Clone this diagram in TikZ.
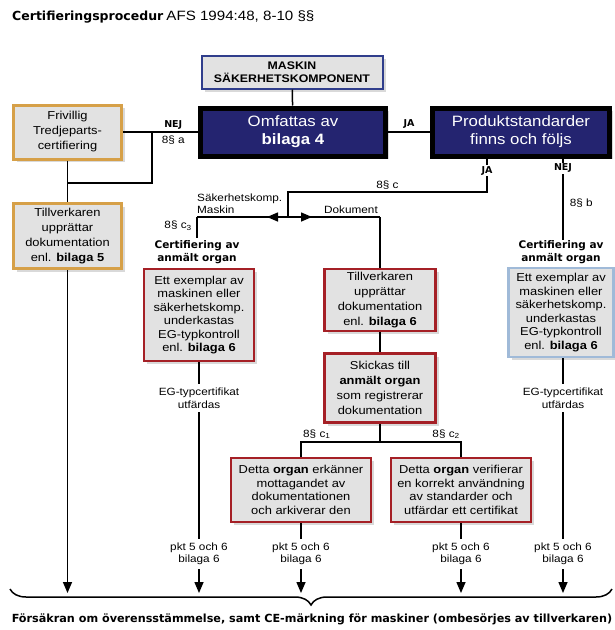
\documentclass[tikz,border=0pt]{standalone}
\usepackage{fontspec}
\setmainfont{Liberation Sans}[FakeStretch=1.12]
\newfontfamily\heavyfont{DejaVu Sans}
\usetikzlibrary{shapes,arrows,arrows.meta,positioning,shadows,decorations.pathreplacing}

\definecolor{boxgrey}{RGB}{226,226,226}
\definecolor{navy}{RGB}{36,36,112}
\definecolor{boxred}{RGB}{165,32,38}
\definecolor{boxorange}{RGB}{214,160,72}
\definecolor{boxblue}{RGB}{48,62,140}
\definecolor{boxlight}{RGB}{160,186,216}

\begin{document}
\begin{tikzpicture}[
    x=1pt, y=-1pt,
    box/.style={rectangle, draw, fill=boxgrey, align=center, inner sep=2pt,
                font=\fontsize{11.5}{13.5}\selectfont,
                drop shadow={opacity=0.3, shadow xshift=3pt, shadow yshift=-3pt}},
    redbox/.style={box, draw=boxred, line width=2.5pt},
    orangebox/.style={box, draw=boxorange, line width=3pt, minimum width=108, font=\fontsize{11.5}{15}\selectfont},
    navybox/.style={box, draw=black, fill=navy, line width=5pt, text=white,
                    minimum height=48, font=\fontsize{15}{18}\selectfont},
    line/.style={line width=1.5pt},
    arrow/.style={line, -{Triangle[width=9pt,length=11pt]}},
    lbl/.style={font=\fontsize{10.5}{12.5}\selectfont, align=center, inner sep=1pt},
    yesno/.style={font=\heavyfont\bfseries\fontsize{9.5}{10}\selectfont, fill=white, inner sep=1pt},
    cert/.style={font=\heavyfont\bfseries\fontsize{10.5}{12.5}\selectfont, align=center, inner sep=0pt}
  ]
  \useasboundingbox (0,0) rectangle (615,630);

  % ---- Title ----
  \node[anchor=base west, inner sep=0pt] (title) at (12,20)
    {{\heavyfont\bfseries\fontsize{12.5}{14}\selectfont Certifieringsprocedur}
     {\fontsize{13.5}{15}\selectfont AFS 1994:48, 8-10 §§}};

  % ---- Top row ----
  \node[box, draw=boxblue, line width=2pt, minimum width=181, minimum height=33,
        font=\bfseries\fontsize{11}{13}\selectfont] (maskin) at (292,72)
        {MASKIN\\SÄKERHETSKOMPONENT};
  \node[navybox, minimum width=185] (omf) at (293,132) {Omfattas av\\\textbf{bilaga 4}};
  \node[navybox, minimum width=177] (prod) at (521,132) {Produktstandarder\\finns och följs};
  \node[orangebox, minimum height=54] (friv) at (67.5,132) {Frivillig\\Tredjeparts-\\certifiering};

  % ---- Left column ----
  \node[orangebox, minimum height=65] (tillv5) at (67.5,236)
        {Tillverkaren\\upprättar\\dokumentation\\enl. \textbf{bilaga 5}};

  % ---- Type examination (left) ----
  \node[cert] (cert1) at (197,252) {Certifiering av\\anmält organ};
  \node[redbox, minimum width=110, minimum height=92] (ex1) at (199,315)
        {Ett exemplar av\\maskinen eller\\säkerhetskomp.\\underkastas\\EG-typkontroll\\enl. \textbf{bilaga 6}};
  \node[lbl, outer sep=3pt] (eg1) at (199,398) {EG-typcertifikat\\utfärdas};

  % ---- Documentation (middle) ----
  \node[redbox, minimum width=111, minimum height=62, font=\fontsize{11.5}{15}\selectfont] (tillv6) at (380,300)
        {Tillverkaren\\upprättar\\dokumentation\\enl. \textbf{bilaga 6}};
  \node[redbox, minimum width=111, minimum height=69, font=\fontsize{11.5}{15}\selectfont] (skickas) at (380,388)
        {Skickas till\\\textbf{anmält organ}\\som registrerar\\dokumentation};
  \node[redbox, minimum width=140, minimum height=64] (erk) at (301,490)
        {Detta \textbf{organ} erkänner\\mottagandet av\\dokumentationen\\och arkiverar den};
  \node[redbox, minimum width=140, minimum height=64] (ver) at (461,490)
        {Detta \textbf{organ} verifierar\\en korrekt användning\\av standarder och\\utfärdar ett certifikat};

  % ---- Type examination (right) ----
  \node[cert] (cert2) at (561,252) {Certifiering av\\anmält organ};
  \node[box, draw=boxlight, line width=2.5pt, minimum width=105, minimum height=89] (ex2) at (561,312.5)
        {Ett exemplar av\\maskinen eller\\säkerhetskomp.\\underkastas\\EG-typkontroll\\enl. \textbf{bilaga 6}};
  \node[lbl, outer sep=3pt] (eg2) at (563,398) {EG-typcertifikat\\utfärdas};

  % ---- Bottom labels ----
  \node[lbl, outer sep=3pt] (pkt1) at (199,554) {pkt 5 och 6\\bilaga 6};
  \node[lbl, outer sep=3pt] (pkt2) at (301,554) {pkt 5 och 6\\bilaga 6};
  \node[lbl, outer sep=3pt] (pkt3) at (461,554) {pkt 5 och 6\\bilaga 6};
  \node[lbl, outer sep=3pt] (pkt4) at (563,554) {pkt 5 och 6\\bilaga 6};

  % ---- Helper points ----
  \coordinate (nejA)  at (152,132);
  \coordinate (joinA) at (67.5,183);
  \coordinate (jaB)   at (487,192);
  \coordinate (split) at (288,192);
  \coordinate (fork)  at (288,217);
  \coordinate (forkL) at (197,217);
  \coordinate (forkR) at (380,217);
  \coordinate (c3end) at (197,238);
  \coordinate (nejB)  at (563,240);
  \coordinate (split2) at (380,442);
  \coordinate (end0) at (67.5,593);
  \coordinate (end1) at (199,593);
  \coordinate (end2) at (301,593);
  \coordinate (end3) at (461,593);
  \coordinate (end4) at (563,593);
  \coordinate (braceL) at (10,589);
  \coordinate (braceR) at (612,589);

  % ---- Arrows ----
  \draw[line] (maskin) -- (omf);
  \draw[line] (friv) -- node[yesno, above=1pt, pos=0.67]{NEJ} node[lbl, below=2pt, pos=0.67]{8§ a} (omf);
  \draw[line] (nejA) |- (joinA);
  \draw[line] (friv) -- (tillv5);
  \draw[line] (omf) -- node[yesno, above=2pt]{JA} (prod);

  \draw[line] (jaB |- prod.south) -- node[yesno, pos=0.36]{JA} (jaB)
              -- node[lbl, above=1pt]{8§ c} (split) -- (fork);
  \draw[line] (forkL) -- (forkR);
  \draw[arrow] (fork) -- ++(-21,0);
  \draw[arrow] (fork) -- ++(24,0);
  \draw[line] (forkL) -- (c3end);
  \draw[line] (forkR) -- (tillv6);
  \node[lbl, anchor=south west, align=left] (sakmask) at (196,215) {Säkerhetskomp.\\Maskin};
  \node[lbl, anchor=south east] (dok) at (379,215) {Dokument};
  \node[lbl, anchor=east] (c3) at (193,226) {8§ c\textsubscript{3}};

  \draw[line] (nejB |- prod.south) -- node[yesno, pos=0.12]{NEJ}
              node[lbl, right=5pt, pos=0.55]{8§ b} (nejB);

  \draw[line] (tillv6) -- (skickas);
  \draw[line] (skickas) -- (split2);
  \draw[line] (erk.north) |- (split2) -| (ver.north);
  \node[lbl, anchor=south west] (c1) at (302,440) {8§ c\textsubscript{1}};
  \node[lbl, anchor=south east] (c2) at (461,440) {8§ c\textsubscript{2}};

  \draw[arrow] (tillv5) -- (end0);
  \draw[line] (ex1) -- (eg1);
  \draw[line] (eg1) -- (pkt1);
  \draw[arrow] (pkt1) -- (end1);
  \draw[line] (erk) -- (pkt2);
  \draw[arrow] (pkt2) -- (end2);
  \draw[line] (ver) -- (pkt3);
  \draw[arrow] (pkt3) -- (end3);
  \draw[line] (ex2.south -| eg2) -- (eg2);
  \draw[line] (eg2) -- (pkt4);
  \draw[arrow] (pkt4) -- (end4);

  % ---- Result ----
  \draw[line, decorate, decoration={brace, mirror, amplitude=16pt}] (braceL) -- (braceR);
  \node[font=\heavyfont\bfseries\fontsize{11.2}{13}\selectfont, inner sep=0pt] (ce) at (312,619)
    {Försäkran om överensstämmelse, samt CE-märkning för maskiner (ombesörjes av tillverkaren)};
\end{tikzpicture}
\end{document}
